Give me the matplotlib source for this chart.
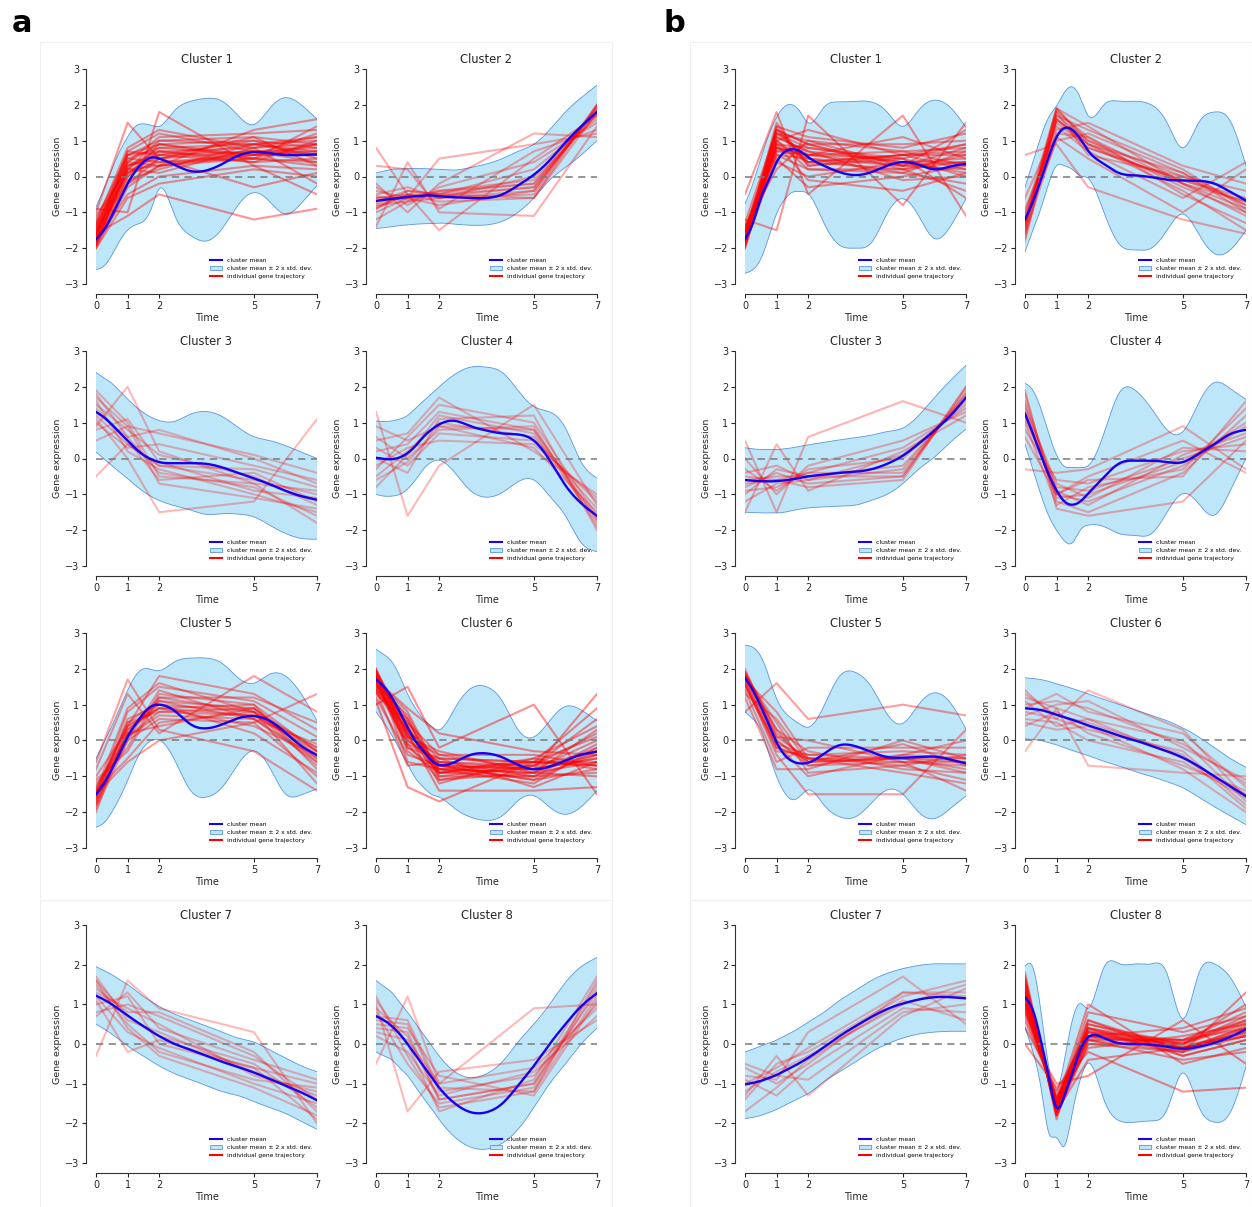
import numpy as np
import matplotlib
matplotlib.use("Agg")
import matplotlib.pyplot as plt
from matplotlib.lines import Line2D
from matplotlib.patches import Patch, Rectangle

# ---------------- data ----------------
T_SAMPLE = [0, 1, 2, 5, 7]
T_CURVE = [0, 0.25, 0.5, 0.75, 1, 1.25, 1.5, 1.75, 2, 2.5, 3, 3.5, 4, 4.5, 5, 5.5, 6, 6.5, 7]
XTICKS = [0, 1, 2, 5, 7]
YTICKS = [-3, -2, -1, 0, 1, 2, 3]
TITLES = ["Cluster 1", "Cluster 2", "Cluster 3", "Cluster 4",
          "Cluster 5", "Cluster 6", "Cluster 7", "Cluster 8"]
LEGEND_LABELS = ["cluster mean", "cluster mean \u00b1 2 x std. dev.", "individual gene trajectory"]

A_MEAN = [
    [-1.75, -1.5, -1.1, -0.65, -0.2, 0.15, 0.4, 0.53, 0.5, 0.32, 0.15, 0.17, 0.35, 0.58, 0.68, 0.65, 0.6, 0.6, 0.62],
    [-0.68, -0.65, -0.62, -0.6, -0.57, -0.55, -0.53, -0.53, -0.55, -0.58, -0.6, -0.6, -0.5, -0.25, 0.05, 0.45, 0.95, 1.4, 1.8],
    [1.3, 1.15, 0.95, 0.72, 0.5, 0.28, 0.1, -0.02, -0.1, -0.13, -0.13, -0.15, -0.25, -0.4, -0.55, -0.72, -0.9, -1.05, -1.15],
    [0.02, -0.01, -0.02, 0.03, 0.15, 0.35, 0.6, 0.8, 0.95, 1.05, 0.9, 0.78, 0.7, 0.67, 0.5, -0.05, -0.75, -1.25, -1.6],
    [-1.5, -1.2, -0.8, -0.35, 0.1, 0.45, 0.75, 0.95, 1.0, 0.82, 0.45, 0.34, 0.45, 0.62, 0.68, 0.55, 0.22, -0.15, -0.41],
    [1.7, 1.5, 1.2, 0.8, 0.36, -0.02, -0.29, -0.55, -0.68, -0.6, -0.4, -0.36, -0.47, -0.68, -0.8, -0.73, -0.56, -0.4, -0.31],
    [1.22, 1.12, 1.0, 0.86, 0.72, 0.58, 0.45, 0.32, 0.2, 0.0, -0.15, -0.3, -0.45, -0.58, -0.72, -0.88, -1.05, -1.22, -1.42],
    [0.7, 0.6, 0.45, 0.25, 0.0, -0.28, -0.55, -0.83, -1.1, -1.5, -1.72, -1.72, -1.5, -1.05, -0.55, 0.0, 0.5, 0.95, 1.28],
]
A_UPPER = [
    [-0.85, -0.35, 0.2, 0.7, 1.1, 1.4, 1.47, 1.43, 1.4, 1.85, 2.1, 2.18, 2.1, 1.7, 1.45, 1.9, 2.2, 2.0, 1.6],
    [0.1, 0.15, 0.2, 0.21, 0.22, 0.22, 0.22, 0.21, 0.2, 0.18, 0.25, 0.35, 0.5, 0.7, 0.9, 1.3, 1.8, 2.2, 2.55],
    [2.4, 2.25, 2.1, 1.88, 1.66, 1.45, 1.28, 1.15, 1.06, 1.04, 1.24, 1.31, 1.17, 0.87, 0.61, 0.5, 0.36, 0.18, 0.0],
    [1.05, 1.03, 1.05, 1.1, 1.2, 1.4, 1.6, 1.8, 2.0, 2.35, 2.55, 2.55, 2.4, 1.9, 1.45, 1.3, 0.85, -0.1, -0.55],
    [-0.5, -0.05, 0.4, 0.9, 1.4, 1.8, 2.0, 1.98, 1.95, 2.2, 2.3, 2.3, 2.15, 1.75, 1.6, 1.85, 1.8, 1.3, 0.55],
    [2.55, 2.4, 2.2, 1.8, 1.3, 0.9, 0.6, 0.4, 0.3, 0.9, 1.45, 1.5, 1.1, 0.3, 0.1, 0.55, 0.95, 0.85, 0.55],
    [1.95, 1.85, 1.75, 1.62, 1.5, 1.35, 1.2, 1.07, 0.95, 0.75, 0.6, 0.45, 0.3, 0.15, 0.05, -0.15, -0.35, -0.55, -0.7],
    [1.6, 1.45, 1.3, 1.05, 0.8, 0.52, 0.25, -0.03, -0.3, -0.7, -0.85, -0.75, -0.45, 0.05, 0.5, 1.0, 1.55, 1.95, 2.18],
]
A_LOWER = [
    [-2.6, -2.5, -2.2, -1.8, -1.5, -1.35, -1.25, -0.9, -0.35, -1.1, -1.65, -1.8, -1.45, -0.8, -0.45, -0.7, -1.05, -0.75, -0.25],
    [-1.45, -1.43, -1.4, -1.37, -1.35, -1.33, -1.32, -1.31, -1.3, -1.33, -1.36, -1.35, -1.25, -1.0, -0.6, -0.1, 0.25, 0.6, 1.0],
    [0.18, -0.01, -0.2, -0.38, -0.56, -0.75, -0.92, -1.06, -1.17, -1.32, -1.44, -1.56, -1.54, -1.55, -1.63, -1.86, -2.09, -2.23, -2.25],
    [-1.0, -1.05, -1.05, -1.0, -0.85, -0.6, -0.3, -0.1, -0.05, -0.4, -0.9, -1.08, -0.95, -0.65, -0.6, -1.05, -1.6, -2.35, -2.6],
    [-2.42, -2.3, -2.0, -1.6, -1.12, -0.6, -0.2, 0.0, 0.02, -0.56, -1.4, -1.58, -1.3, -0.66, -0.29, -0.75, -1.49, -1.52, -1.35],
    [0.8, 0.5, 0.15, -0.25, -0.66, -1.05, -1.3, -1.5, -1.58, -1.9, -2.14, -2.23, -2.1, -1.68, -1.54, -1.86, -2.06, -1.85, -1.4],
    [0.5, 0.38, 0.25, 0.1, -0.05, -0.18, -0.3, -0.43, -0.55, -0.75, -0.9, -1.05, -1.2, -1.3, -1.45, -1.6, -1.75, -1.95, -2.15],
    [-0.2, -0.3, -0.4, -0.6, -0.8, -1.08, -1.35, -1.62, -1.9, -2.35, -2.6, -2.65, -2.5, -2.15, -1.6, -1.0, -0.5, 0.0, 0.4],
]
A_TRAJ = [
    [[-1.9, 0.2, 0.8, 0.9, 1.0], [-1.7, 0.0, 0.5, 0.7, 0.6], [-1.5, 0.4, 1.1, 1.2, 1.3], [-2.0, -0.3, 0.3, 0.5, 0.4],
     [-1.2, 0.6, 0.9, 0.6, 0.9], [-1.8, -0.5, 0.0, 0.3, 0.2], [-1.6, 0.3, 0.6, 1.0, 0.8], [-1.3, 0.8, 1.3, 0.8, 1.1],
     [-1.9, -0.1, 0.2, 0.9, 0.7], [-1.4, 0.1, 0.7, 0.4, 0.5], [-1.7, 0.5, 0.4, 0.6, 1.2], [-1.1, 0.2, 1.0, 1.1, 0.3],
     [-2.0, -0.6, -0.2, 0.2, 0.0], [-1.5, 0.7, 0.6, 0.7, 0.7], [-1.8, 0.0, 0.9, 0.5, 1.4], [-1.0, 1.5, 0.5, -0.3, 0.1],
     [-0.9, -1.0, 1.8, 0.3, -0.5], [-1.6, -1.1, -0.5, -1.2, -0.9], [-1.4, 0.4, 0.3, 1.3, 1.6], [-1.6, 0.2, 0.1, 0.8, -0.2],
     [-1.7, 0.6, 0.7, 0.5, 0.9], [-1.3, 0.3, 0.5, 0.9, 0.6], [-1.85, 0.3, 0.7, 0.8, 0.9], [-1.55, 0.1, 0.4, 0.5, 0.3],
     [-1.75, 0.6, 1.0, 0.9, 1.1], [-1.45, -0.2, 0.3, 0.7, 0.8], [-1.95, 0.4, 0.9, 1.0, 0.5], [-1.65, 0.1, 0.6, 0.4, 1.0],
     [-1.35, 0.5, 0.8, 0.6, 0.6], [-1.9, -0.2, 0.5, 1.1, 0.9], [-1.6, 0.7, 1.2, 0.7, 0.4], [-1.8, 0.2, 0.3, 0.6, 0.7]],
    [[-0.6, -0.5, -0.5, -0.3, 1.9], [-1.2, -0.7, -0.6, -0.5, 2.0], [-0.4, -0.6, -0.4, -0.1, 1.7], [-0.9, -0.5, -0.7, -0.6, 1.8],
     [-0.7, -0.4, -0.5, 0.2, 1.6], [-0.3, -0.8, -0.3, 0.4, 1.5], [-1.0, -0.6, -0.8, -0.4, 2.0], [-0.5, -0.3, -0.6, 0.0, 1.8],
     [-0.8, -0.7, -0.4, -0.2, 1.9], [0.3, 0.2, -0.9, 0.7, 1.3], [-0.2, -1.0, -0.2, 1.2, 1.1], [0.8, -0.5, -1.5, 0.5, 1.7],
     [-1.4, 0.4, -1.0, -1.1, 1.4], [-0.6, -0.6, 0.5, 0.9, 1.2], [-0.9, -0.4, -0.5, -0.6, 2.0], [-0.75, -0.55, -0.55, -0.3, 1.85],
     [-0.55, -0.65, -0.45, -0.2, 1.75], [-0.85, -0.5, -0.6, -0.4, 1.95]],
    [[1.8, 0.6, -0.4, -0.8, -1.6], [1.5, 0.8, 0.1, -0.5, -1.3], [1.2, 0.4, -0.2, -0.3, -0.8], [1.9, 1.0, -0.5, -0.7, -1.8],
     [1.0, 0.3, 0.4, -0.2, -0.6], [0.8, 1.1, -0.1, -0.9, -1.1], [1.6, 0.2, -0.3, -1.0, -1.5], [0.5, 0.9, 0.7, 0.1, -0.4],
     [1.4, 0.5, -0.6, -0.4, -1.2], [-0.5, 0.4, -0.2, -0.6, -1.0], [0.9, 2.0, 0.2, -0.7, -0.9], [1.1, 0.0, -1.5, -1.2, 1.1],
     [1.3, 0.6, 0.8, 0.0, -0.7], [1.7, 0.9, -0.7, -1.1, -1.4]],
    [[0.2, 0.4, 1.3, 0.8, -1.7], [-0.5, 0.2, 1.0, 0.6, -1.4], [0.6, 0.0, 0.8, 0.9, -1.9], [-0.3, 0.6, 1.5, 1.0, -1.6],
     [0.3, -0.2, 0.7, 0.5, -1.2], [-0.8, 0.1, 1.2, 0.7, -1.8], [0.9, 0.5, 0.9, 0.3, -1.5], [0.0, -0.4, 1.1, 1.2, -2.0],
     [-0.2, 0.3, 0.5, 0.4, -1.1], [1.3, -1.6, -0.2, 1.5, -1.3], [0.5, 0.7, 1.7, 0.2, -1.0], [-0.6, -0.1, 0.9, 0.8, -1.7]],
    [[-1.8, 0.2, 1.1, 0.9, -0.5], [-1.5, 0.5, 0.8, 0.7, -0.2], [-1.2, -0.2, 1.3, 1.0, -0.8], [-1.9, 0.0, 0.6, 0.5, -1.0],
     [-1.6, 0.8, 1.5, 1.1, 0.1], [-1.0, 0.3, 0.9, 0.4, -0.4], [-1.4, -0.5, 0.5, 0.8, -1.2], [-2.0, 0.4, 1.8, 1.3, 0.3],
     [-1.3, 0.1, 0.7, 0.6, -0.6], [-1.7, 0.6, 1.0, 0.2, -0.9], [-1.1, -0.3, 1.2, 1.2, 0.5], [-0.6, 1.7, 0.3, -0.3, -1.4],
     [-1.5, -0.6, 0.0, 0.5, 1.3], [-1.8, 0.2, 0.4, 0.9, -0.3], [-1.4, 0.9, 1.6, 0.8, -0.7], [-0.8, 1.3, 0.2, 1.8, 0.8],
     [-1.6, 0.0, 1.4, 0.6, -0.1], [-1.5, 0.4, 0.9, 1.0, -0.3], [-1.65, 0.3, 1.0, 0.8, -0.4], [-1.35, 0.4, 0.9, 0.7, -0.3],
     [-1.75, 0.1, 0.8, 0.9, -0.6], [-1.45, 0.5, 1.1, 0.6, -0.5], [-1.55, 0.2, 1.2, 0.8, -0.2]],
    [[1.9, 0.3, -0.8, -0.9, -0.6], [1.6, 0.0, -0.6, -0.7, -0.3], [1.4, 0.6, -1.0, -1.0, -0.9], [2.0, -0.2, -0.5, -0.6, 0.1],
     [1.7, 0.8, -0.9, -0.8, -0.5], [1.2, -0.4, -0.7, -1.1, -0.8], [1.8, 0.4, -1.2, -0.5, 0.4], [1.5, 0.1, -0.3, -0.9, -1.0],
     [1.9, -0.6, -0.8, -1.2, -0.2], [1.3, 0.5, -0.4, -0.4, -0.7], [1.6, -0.1, -1.1, -0.7, 0.6], [1.0, 1.5, -0.2, 1.0, -1.5],
     [1.8, 0.2, -1.4, -1.4, -1.3], [1.7, 0.9, 0.2, -0.3, -0.4], [1.4, -0.7, -0.6, -0.8, 1.3], [2.0, 0.1, -0.9, -1.0, -0.1],
     [1.5, 0.3, -0.5, -1.3, -0.6], [1.1, -1.3, -1.7, -0.6, 0.9], [1.6, 0.2, -0.7, -0.8, -0.4], [1.8, -0.3, -0.9, -0.6, -0.7],
     [1.85, 0.2, -0.7, -0.8, -0.5], [1.65, 0.5, -0.8, -0.9, -0.2], [1.45, -0.1, -0.5, -0.6, -0.6], [1.95, 0.4, -1.0, -0.7, 0.2],
     [1.75, 0.0, -0.6, -1.0, -0.4], [1.55, 0.7, -0.9, -0.5, -0.8], [1.9, 0.1, -0.4, -0.8, 0.0], [1.35, 0.3, -0.7, -1.1, -0.3],
     [1.7, -0.2, -0.8, -0.6, -0.7], [1.8, 0.6, -1.1, -0.9, 0.3]],
    [[1.6, 0.7, 0.2, -0.5, -1.6], [1.3, 0.9, 0.5, -0.8, -1.2], [1.0, 1.2, 0.0, -0.6, -1.9], [1.5, 0.5, -0.2, -0.9, -1.1],
     [0.8, 1.0, 0.7, -0.3, -1.4], [1.7, 0.6, 0.3, -0.7, -1.3], [1.2, 0.3, -0.1, -1.0, -1.5], [0.7, 1.3, 0.4, -0.4, -0.9],
     [1.4, 0.8, 0.8, -0.2, -1.7], [-0.3, 1.6, 0.9, 0.3, -2.0], [1.1, -0.2, 0.1, -0.6, -1.0], [1.6, 0.4, -0.3, -1.1, -1.8]],
    [[0.9, 0.2, -1.4, -1.0, 1.3], [0.6, 0.5, -1.2, -0.8, 1.0], [1.2, -0.3, -1.6, -1.2, 1.6], [0.3, 0.1, -1.0, -0.6, 0.9],
     [0.8, -0.5, -1.5, -1.1, 1.4], [0.5, 0.4, -0.8, -1.3, 1.1], [1.1, 0.0, -1.7, -0.9, 1.7], [0.2, -0.2, -1.3, -0.7, 0.7],
     [0.7, 0.6, -1.1, -1.2, 1.2], [-0.5, 1.2, -1.0, 0.9, 1.0], [1.0, -1.7, -0.7, -0.4, 0.6], [0.4, 0.3, -1.4, -1.0, 1.5]],
]
A_ALPHA = [0.42, 0.32, 0.28, 0.28, 0.38, 0.44, 0.28, 0.28]

B_MEAN = [
    [-1.75, -1.3, -0.6, -0.1, 0.4, 0.68, 0.76, 0.7, 0.54, 0.3, 0.12, 0.04, 0.12, 0.3, 0.4, 0.33, 0.2, 0.28, 0.35],
    [-1.2, -0.7, -0.1, 0.55, 1.1, 1.35, 1.3, 1.05, 0.72, 0.35, 0.09, 0.03, -0.02, -0.09, -0.11, -0.12, -0.2, -0.43, -0.67],
    [-0.6, -0.62, -0.63, -0.64, -0.63, -0.61, -0.58, -0.54, -0.5, -0.45, -0.4, -0.37, -0.3, -0.15, 0.08, 0.41, 0.78, 1.19, 1.7],
    [1.25, 0.7, 0.1, -0.45, -0.89, -1.2, -1.29, -1.2, -0.98, -0.52, -0.13, -0.06, -0.06, -0.1, -0.1, 0.13, 0.4, 0.68, 0.8],
    [1.75, 1.4, 0.95, 0.45, -0.05, -0.4, -0.58, -0.64, -0.62, -0.37, -0.13, -0.16, -0.32, -0.46, -0.48, -0.46, -0.45, -0.53, -0.64],
    [0.9, 0.88, 0.85, 0.79, 0.72, 0.65, 0.58, 0.5, 0.42, 0.28, 0.13, 0.0, -0.15, -0.3, -0.48, -0.72, -1.0, -1.28, -1.55],
    [-1.02, -0.98, -0.93, -0.86, -0.78, -0.68, -0.58, -0.47, -0.35, -0.08, 0.2, 0.45, 0.68, 0.88, 1.02, 1.12, 1.18, 1.18, 1.15],
    [1.18, 0.85, 0.1, -0.82, -1.6, -1.3, -0.73, -0.15, 0.17, 0.15, 0.02, 0.0, -0.02, -0.07, -0.12, -0.07, 0.03, 0.18, 0.37],
]
B_UPPER = [
    [-0.76, -0.2, 0.5, 1.15, 1.65, 1.95, 2.0, 1.8, 1.5, 1.93, 2.08, 2.1, 2.08, 1.8, 1.4, 1.85, 2.13, 1.93, 1.37],
    [-0.3, 0.4, 1.1, 1.65, 1.97, 2.35, 2.5, 2.2, 1.7, 2.0, 2.1, 2.1, 2.0, 1.5, 0.8, 1.5, 1.8, 1.55, 0.3],
    [0.3, 0.27, 0.25, 0.25, 0.25, 0.27, 0.3, 0.34, 0.38, 0.45, 0.52, 0.58, 0.65, 0.75, 0.85, 1.2, 1.7, 2.17, 2.6],
    [2.1, 1.9, 1.4, 0.7, 0.1, -0.22, -0.25, -0.25, -0.2, 0.7, 1.85, 1.9, 1.4, 0.8, 0.75, 1.55, 2.12, 1.95, 1.65],
    [2.66, 2.6, 2.35, 1.8, 1.17, 0.8, 0.6, 0.45, 0.37, 0.96, 1.8, 1.9, 1.5, 0.74, 0.48, 1.0, 1.33, 1.06, 0.32],
    [1.75, 1.73, 1.7, 1.65, 1.58, 1.52, 1.45, 1.38, 1.3, 1.15, 1.0, 0.85, 0.7, 0.55, 0.35, 0.1, -0.2, -0.5, -0.75],
    [-0.2, -0.13, -0.05, 0.02, 0.1, 0.2, 0.3, 0.42, 0.55, 0.8, 1.1, 1.35, 1.6, 1.78, 1.9, 1.98, 2.02, 2.02, 2.02],
    [1.96, 1.93, 0.85, -0.57, -1.15, -0.4, 0.6, 1.02, 0.9, 1.93, 2.02, 2.02, 2.02, 1.77, 0.64, 1.77, 2.02, 1.68, 0.93],
]
B_LOWER = [
    [-2.7, -2.6, -2.3, -1.7, -1.04, -0.65, -0.44, -0.42, -0.48, -1.3, -1.92, -2.0, -1.85, -1.04, -0.62, -1.1, -1.73, -1.4, -0.62],
    [-2.1, -1.5, -0.9, -0.2, 0.3, 0.3, 0.2, 0.02, -0.05, -1.0, -1.9, -2.05, -2.0, -1.5, -1.05, -1.6, -2.15, -2.05, -1.5],
    [-1.5, -1.51, -1.52, -1.52, -1.52, -1.5, -1.45, -1.41, -1.38, -1.35, -1.33, -1.3, -1.17, -1.0, -0.7, -0.3, 0.04, 0.45, 0.82],
    [0.4, -0.3, -1.0, -1.6, -2.0, -2.3, -2.35, -2.0, -1.86, -1.9, -2.1, -2.15, -2.1, -1.5, -0.98, -1.26, -1.58, -0.9, 0.0],
    [0.8, 0.6, 0.3, -0.35, -1.0, -1.45, -1.65, -1.55, -1.38, -1.8, -2.13, -2.13, -1.75, -1.38, -1.5, -2.0, -2.18, -1.9, -1.55],
    [0.05, 0.03, 0.0, -0.06, -0.12, -0.2, -0.28, -0.35, -0.42, -0.58, -0.72, -0.87, -1.0, -1.15, -1.32, -1.58, -1.85, -2.1, -2.35],
    [-1.88, -1.85, -1.8, -1.73, -1.65, -1.55, -1.45, -1.35, -1.25, -0.95, -0.7, -0.45, -0.2, 0.0, 0.15, 0.25, 0.3, 0.32, 0.32],
    [0.43, -0.2, -1.07, -2.23, -2.36, -2.57, -1.73, -0.9, -0.48, -1.4, -1.94, -1.97, -1.94, -1.65, -0.73, -1.57, -1.97, -1.73, -0.57],
]
B_TRAJ = [
    [[-1.8, 1.2, 0.8, 0.5, 0.9], [-1.6, 0.9, 0.5, 0.3, 0.2], [-1.9, 1.4, 1.1, 0.8, 1.2], [-1.4, 0.6, 0.2, 0.1, -0.2],
     [-2.0, 1.0, 1.3, 0.6, 0.6], [-1.7, 0.4, 0.0, 0.4, 0.4], [-1.5, 1.1, 0.7, -0.1, 0.0], [-1.8, 0.7, 0.9, 0.9, 1.0],
     [-1.3, 1.3, 0.4, 0.2, -0.4], [-1.9, 0.5, -0.3, 0.0, 0.3], [-1.6, 0.8, 0.6, 0.7, 0.8], [-0.5, 1.8, -0.5, 1.7, -1.1],
     [-1.2, -1.5, 1.7, -0.8, 1.5], [-1.7, 1.5, 0.3, 0.5, -0.6], [-1.4, 0.2, 1.0, 0.3, 1.3], [-2.0, 0.9, -0.1, -0.4, 0.1],
     [-1.5, 1.2, 0.6, 1.1, 0.5], [-1.8, 1.0, 0.4, 0.6, 0.7], [-1.6, 1.3, 0.9, 0.2, 0.4], [-1.85, 1.1, 0.7, 0.4, 0.5],
     [-1.65, 0.8, 0.4, 0.6, 0.2], [-1.95, 1.3, 0.9, 0.3, 0.8], [-1.55, 0.7, 0.6, 0.5, 0.0], [-1.75, 1.0, 0.2, 0.2, 0.6],
     [-1.9, 1.2, 1.0, 0.7, 0.3], [-1.6, 0.6, 0.5, 0.1, 0.7], [-1.7, 0.9, 0.8, 0.4, 0.1], [-1.8, 1.4, 0.3, 0.6, 0.9],
     [-1.5, 0.8, 0.6, 0.3, 0.4]],
    [[-1.5, 1.9, 1.0, -0.3, -1.0], [-1.2, 1.5, 0.8, -0.1, -0.6], [-1.8, 1.7, 1.3, 0.2, -0.9], [-0.9, 1.2, 1.1, -0.5, -1.3],
     [-1.4, 1.8, 0.6, 0.0, -0.4], [-1.0, 1.3, 1.5, 0.3, -0.2], [-1.7, 1.6, 0.9, -0.4, -1.5], [-1.3, 1.0, 1.2, 0.1, -0.8],
     [-0.6, 1.4, 0.7, -0.6, 0.4], [0.6, 0.9, -0.3, -1.2, -1.6], [-1.1, 1.9, 1.4, -0.2, -1.1], [-1.6, 1.1, 0.5, -1.0, 0.2],
     [-1.3, 1.6, 0.9, -0.2, -0.7], [-1.45, 1.7, 1.0, 0.0, -0.8], [-1.25, 1.8, 1.1, -0.2, -0.9], [-1.55, 1.6, 0.8, -0.1, -0.7],
     [-1.35, 1.9, 0.9, 0.1, -1.0]],
    [[-0.6, -0.5, -0.5, -0.5, 2.0], [-1.2, -0.7, -0.6, -0.3, 1.8], [-0.3, -0.9, -0.3, 0.0, 1.6], [-0.8, -0.4, -0.7, -0.5, 1.9],
     [-0.5, -0.6, -0.4, 0.3, 1.4], [-1.0, -0.3, -0.5, -0.2, 1.7], [0.0, -1.0, -0.2, 0.5, 1.3], [-0.7, -0.6, -0.8, -0.6, 2.0],
     [-1.5, 0.4, -0.9, 0.2, 1.2], [0.5, -1.5, 0.6, 1.6, 1.0], [-0.4, -0.2, -0.6, 0.1, 1.5], [-0.9, -0.8, -0.4, -0.4, 1.8]],
    [[1.5, -1.0, -1.2, -0.2, 0.9], [1.1, -0.8, -0.9, 0.0, 0.6], [1.8, -1.2, -1.5, -0.4, 1.2], [0.8, -0.6, -0.7, 0.2, 0.4],
     [1.3, -1.1, -1.0, -0.1, 1.0], [1.6, -0.9, -1.3, 0.1, 0.7], [1.0, -1.3, -0.8, -0.3, 1.4], [1.4, -0.7, -1.1, 0.3, 0.2],
     [0.6, -1.0, -0.6, -0.5, 1.6], [-0.3, -0.4, -0.3, 0.9, -0.3], [1.9, -1.4, -1.6, -1.2, 0.5], [1.2, -1.0, -0.5, 0.5, -0.4]],
    [[1.9, 0.2, -0.6, -0.5, -0.8], [1.6, -0.3, -0.4, -0.3, -0.4], [1.8, 0.5, -0.9, -0.7, -1.1], [1.4, -0.6, -0.2, -0.2, -0.2],
     [2.0, 0.0, -0.7, -0.6, -0.6], [1.7, 0.8, -0.5, -0.9, -1.2], [1.5, -0.1, -1.0, -0.4, 0.0], [1.9, 0.3, -0.3, -0.8, -0.9],
     [1.2, -0.8, -0.8, 0.0, -0.5], [0.8, 1.6, 0.6, 1.0, 0.7], [1.6, -0.4, -1.5, -1.5, 0.3], [1.8, 0.1, 0.0, -0.6, -1.4],
     [1.3, 0.6, -0.6, -0.1, -0.7], [1.7, -0.2, -0.5, -0.5, -0.5], [1.75, 0.0, -0.6, -0.5, -0.6], [1.55, -0.2, -0.5, -0.6, -0.7],
     [1.85, 0.3, -0.7, -0.4, -0.5], [1.65, -0.1, -0.4, -0.5, -0.9], [1.9, 0.1, -0.5, -0.7, -0.4]],
    [[1.2, 0.9, 0.6, -0.5, -1.5], [0.8, 0.6, 0.3, -0.3, -1.8], [1.0, 1.1, 0.9, -0.1, -1.2], [0.6, 0.5, 0.0, -0.6, -1.6],
     [1.3, 0.7, 0.5, -0.4, -1.9], [0.9, 1.3, 0.8, 0.2, -1.3], [0.4, 0.8, 0.2, -0.7, -1.4], [1.1, 0.4, 0.6, 0.0, -1.7],
     [0.7, 1.0, 1.1, -0.2, -1.1], [-0.3, 0.9, -0.7, -0.9, -1.0], [1.4, 0.6, 1.4, 0.3, -1.6], [0.5, 0.3, 0.4, -0.8, -2.0]],
    [[-0.6, -1.0, -0.5, 1.3, 1.2], [-1.2, -0.7, -0.3, 1.0, 1.5], [-0.9, -1.3, -0.6, 0.9, 0.8], [-1.4, -0.5, -0.2, 1.2, 1.6],
     [-0.5, -0.8, -0.9, 0.8, 1.0], [-1.7, -1.1, -0.4, 1.1, 0.6], [-1.0, -0.6, -0.1, 1.3, 1.3], [-0.8, -0.9, 0.3, 1.7, 0.5],
     [-1.3, -0.3, -1.3, 0.7, 1.4]],
    [[1.3, -1.6, 0.2, -0.1, 0.4], [1.0, -1.4, 0.4, 0.0, 0.6], [1.6, -1.8, 0.0, -0.2, 0.2], [0.8, -1.2, 0.3, 0.1, 0.8],
     [1.4, -1.7, 0.6, -0.3, 0.1], [1.1, -1.5, -0.1, 0.2, 0.5], [1.8, -1.9, 0.5, 0.0, 1.0], [0.6, -1.3, 0.1, -0.4, -0.2],
     [1.2, -1.6, 0.8, 0.3, 0.7], [1.5, -1.7, -0.4, -0.1, 0.3], [0.9, -1.4, 0.3, -0.2, 1.3], [0.4, -1.0, -0.8, 0.6, -0.5],
     [1.3, -1.5, 1.0, -0.5, -0.1], [0.0, -1.1, -0.2, -1.2, -1.1], [1.7, -1.8, 0.2, 0.4, 0.9], [1.2, -1.6, 0.4, -0.1, 0.2],
     [1.0, -1.5, 0.1, 0.1, 0.4], [1.25, -1.6, 0.3, -0.1, 0.3], [0.95, -1.45, 0.2, 0.0, 0.5], [1.55, -1.75, 0.1, -0.2, 0.4],
     [1.15, -1.55, 0.5, -0.1, 0.2], [1.45, -1.7, 0.2, 0.1, 0.6], [0.85, -1.35, 0.4, -0.3, 0.1], [1.35, -1.65, 0.0, 0.0, 0.7],
     [1.05, -1.5, 0.6, -0.15, 0.45], [1.65, -1.8, 0.35, -0.05, 0.25], [0.75, -1.4, 0.15, 0.05, 0.55]],
]
B_ALPHA = [0.42, 0.34, 0.3, 0.3, 0.38, 0.28, 0.28, 0.44]

# ---------------- style ----------------
W, H = 1252, 1207
BAND_FACE = "#bde7f8"
BAND_EDGE = "#5b95dc"
MEAN_COLOR = "#1a00f0"
TEXT_COLOR = "#262626"


def smooth(x, y, xn):
    """Natural cubic spline through the given knots (used only for drawing)."""
    x = np.asarray(x, float)
    y = np.asarray(y, float)
    xn = np.asarray(xn, float)
    n = len(x)
    h = np.diff(x)
    d = np.diff(y) / h
    A = np.zeros((n - 2, n - 2))
    rhs = np.zeros(n - 2)
    for i in range(n - 2):
        A[i, i] = 2 * (h[i] + h[i + 1])
        if i > 0:
            A[i, i - 1] = h[i]
        if i < n - 3:
            A[i, i + 1] = h[i + 1]
        rhs[i] = 6 * (d[i + 1] - d[i])
    M = np.zeros(n)
    M[1:-1] = np.linalg.solve(A, rhs)
    idx = np.clip(np.searchsorted(x, xn, side="right") - 1, 0, n - 2)
    hi = h[idx]
    a = x[idx + 1] - xn
    b = xn - x[idx]
    return (M[idx] * a**3 / (6 * hi) + M[idx + 1] * b**3 / (6 * hi)
            + (y[idx] / hi - M[idx] * hi / 6) * a + (y[idx + 1] / hi - M[idx + 1] * hi / 6) * b)


def draw_cluster(ax, mean, upper, lower, trajs, alpha, title):
    tt = np.linspace(0, 7, 500)
    up = smooth(T_CURVE, upper, tt)
    lo = smooth(T_CURVE, lower, tt)
    mu = smooth(T_CURVE, mean, tt)
    ax.fill_between(tt, lo, up, facecolor=BAND_FACE, edgecolor="none", zorder=1)
    ax.plot(tt, up, color=BAND_EDGE, lw=0.6, zorder=1.1)
    ax.plot(tt, lo, color=BAND_EDGE, lw=0.6, zorder=1.1)
    for tr in trajs:
        ax.plot(T_SAMPLE, tr, color="red", alpha=alpha, lw=1.5, zorder=2)
    ax.plot([0, 7], [0, 0], ls=(0, (4, 3)), color="#7a7a7a", lw=1.3, alpha=0.85, zorder=3)
    ax.plot(tt, mu, color=MEAN_COLOR, lw=1.7, zorder=4)
    ax.set_xlim(0, 7)
    ax.set_ylim(-3, 3)
    ax.set_xticks(XTICKS)
    ax.set_yticks(YTICKS)
    ax.set_xticklabels([str(v) for v in XTICKS])
    ax.set_yticklabels([("\u2212" + str(-v)) if v < 0 else str(v) for v in YTICKS])
    for s in ("top", "right"):
        ax.spines[s].set_visible(False)
    for s in ("left", "bottom"):
        ax.spines[s].set_position(("outward", 7))
        ax.spines[s].set_linewidth(0.8)
        ax.spines[s].set_color("#333333")
    ax.tick_params(axis="both", length=3, width=0.8, labelsize=7, colors=TEXT_COLOR, pad=2)
    ax.set_xlabel("Time", fontsize=7, color=TEXT_COLOR, labelpad=2)
    ax.set_ylabel("Gene expression", fontsize=6.8, color=TEXT_COLOR, labelpad=2)
    ax.set_title(title, fontsize=8.3, color=TEXT_COLOR, pad=4)
    ax.patch.set_alpha(0)
    handles = [
        Line2D([], [], color=MEAN_COLOR, lw=1.5),
        Patch(facecolor=BAND_FACE, edgecolor=BAND_EDGE, lw=0.6),
        Line2D([], [], color="red", lw=1.5),
    ]
    ax.legend(handles, LEGEND_LABELS, loc="lower right", bbox_to_anchor=(1.0, 0.0),
              frameon=False, fontsize=4.3, handlelength=2.0, handleheight=0.8,
              labelspacing=0.45, borderpad=0.3, handletextpad=0.8)


fig = plt.figure(figsize=(W / 100, H / 100), dpi=100)
fig.patch.set_facecolor("white")

# faint frames
for (x0, y0, x1, y1) in [(40, 42, 612, 900), (40, 900, 612, 1207), (690, 42, 1252, 900), (690, 900, 1252, 1207)]:
    fig.add_artist(Rectangle((x0 / W, 1 - y1 / H), (x1 - x0) / W, (y1 - y0) / H,
                             transform=fig.transFigure, fill=False, edgecolor="#efefef", lw=0.8))

COL_X = {"a": [96, 376], "b": [745, 1025]}
ROW_Y = [(69, 284), (351, 566), (633, 848), (925, 1163)]
AX_W = 221

for panel, means, uppers, lowers, trajs, alphas in [
    ("a", A_MEAN, A_UPPER, A_LOWER, A_TRAJ, A_ALPHA),
    ("b", B_MEAN, B_UPPER, B_LOWER, B_TRAJ, B_ALPHA),
]:
    for i in range(8):
        r, c = divmod(i, 2)
        x0 = COL_X[panel][c]
        ytop, ybot = ROW_Y[r]
        ax = fig.add_axes([x0 / W, 1 - ybot / H, AX_W / W, (ybot - ytop) / H])
        draw_cluster(ax, means[i], uppers[i], lowers[i], trajs[i], alphas[i], TITLES[i])

fig.text(12 / W, 1 - 32 / H, "a", fontsize=22, fontweight="bold", ha="left", va="baseline")
fig.text(664 / W, 1 - 32 / H, "b", fontsize=22, fontweight="bold", ha="left", va="baseline")

fig.savefig("out.png", dpi=100, facecolor="white")
